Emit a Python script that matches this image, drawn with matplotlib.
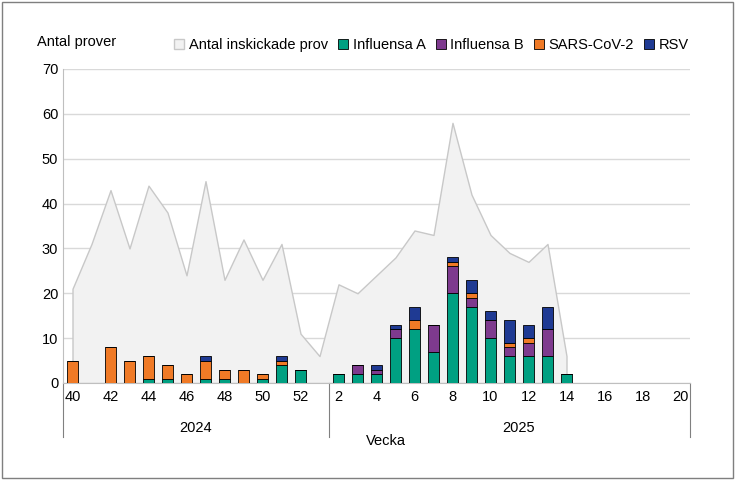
import numpy as np
import matplotlib.pyplot as plt
from matplotlib.patches import Patch

plt.rcParams['font.family'] = 'Liberation Sans'

weeks = list(range(40, 53)) + list(range(1, 21))
total = [21, 31, 43, 30, 44, 38, 24, 45, 23, 32, 23, 31, 11,
         6, 22, 20, 24, 28, 34, 33, 58, 42, 33, 29, 27, 31, 6] + [np.nan] * 6
infl_a = [0, 0, 0, 0, 1, 1, 0, 1, 1, 0, 1, 4, 3,
          0, 2, 2, 2, 10, 12, 7, 20, 17, 10, 6, 6, 6, 2] + [0] * 6
infl_b = [0, 0, 0, 0, 0, 0, 0, 0, 0, 0, 0, 0, 0,
          0, 0, 2, 1, 2, 0, 6, 6, 2, 4, 2, 3, 6, 0] + [0] * 6
sars = [5, 0, 8, 5, 5, 3, 2, 4, 2, 3, 1, 1, 0,
        0, 0, 0, 0, 0, 2, 0, 1, 1, 0, 1, 1, 0, 0] + [0] * 6
rsv = [0, 0, 0, 0, 0, 0, 0, 1, 0, 0, 0, 1, 0,
       0, 0, 0, 1, 1, 3, 0, 1, 3, 2, 5, 3, 5, 0] + [0] * 6
years = ['2024', '2025']

x = np.arange(len(weeks))
fig = plt.figure(figsize=(7.35, 4.8), dpi=100)
ax = fig.add_axes([63/735, 1-383/480, 627/735, 314/480])

ax.fill_between(x, total, color='#f2f2f2', edgecolor='#c8c8c8', linewidth=1, zorder=1)
series = [(infl_a, '#00a082', 'Influensa A'), (infl_b, '#7e3a8e', 'Influensa B'),
          (sars, '#f07a26', 'SARS-CoV-2'), (rsv, '#1f3a93', 'RSV')]
bottom = np.zeros(len(x))
for vals, col, lab in series:
    v = np.array(vals, dtype=float)
    ax.bar(x, v, 0.55, bottom=bottom, color=col, edgecolor='black', linewidth=0.6,
           label=lab, zorder=3)
    bottom += v

ax.set_xlim(-0.5, len(x) - 0.5)
ax.set_ylim(0, 70)
ax.set_yticks(range(0, 71, 10))
ax.yaxis.grid(True, color='#d9d9d9', linewidth=1)
ax.set_axisbelow(True)
ticks = [i for i, w in enumerate(weeks) if w % 2 == 0]
ax.set_xticks(ticks)
ax.set_xticklabels([str(weeks[i]) for i in ticks])
ax.tick_params(axis='both', length=0, labelsize=10.5)
ax.tick_params(axis='x', pad=5)
for s in ['top', 'right']:
    ax.spines[s].set_visible(False)
ax.spines['left'].set_color('#bfbfbf')
ax.spines['bottom'].set_color('#bfbfbf')

# year grouping
for xs in [-0.5, 13.5, len(x) - 0.5]:
    ax.plot([xs, xs], [0, -12], color='#808080', linewidth=0.8, clip_on=False)
ax.text(6.5, -10, years[0], ha='center', va='center', fontsize=10.5)
ax.text(23.5, -10, years[1], ha='center', va='center', fontsize=10.5)
ax.text(16.5, -13, 'Vecka', ha='center', va='center', fontsize=10.5)
fig.text(37/735, 1-42/480, 'Antal prover', ha='left', va='center', fontsize=10.5)

handles = [Patch(facecolor='#f2f2f2', edgecolor='#c8c8c8', label='Antal inskickade prov')]
h, l = ax.get_legend_handles_labels()
ax.legend(handles + h, ['Antal inskickade prov'] + l, loc='lower right',
          bbox_to_anchor=(1.01, 1.03), ncol=5, frameon=False, fontsize=10.5,
          handlelength=0.7, handleheight=0.7, handletextpad=0.3, columnspacing=0.7,
          borderpad=0)

fig.patches.append(plt.Rectangle((0.003, 0.004), 0.994, 0.992, transform=fig.transFigure,
                                 fill=False, edgecolor='#7f7f7f', linewidth=1))
fig.savefig('out.png', dpi=100)
